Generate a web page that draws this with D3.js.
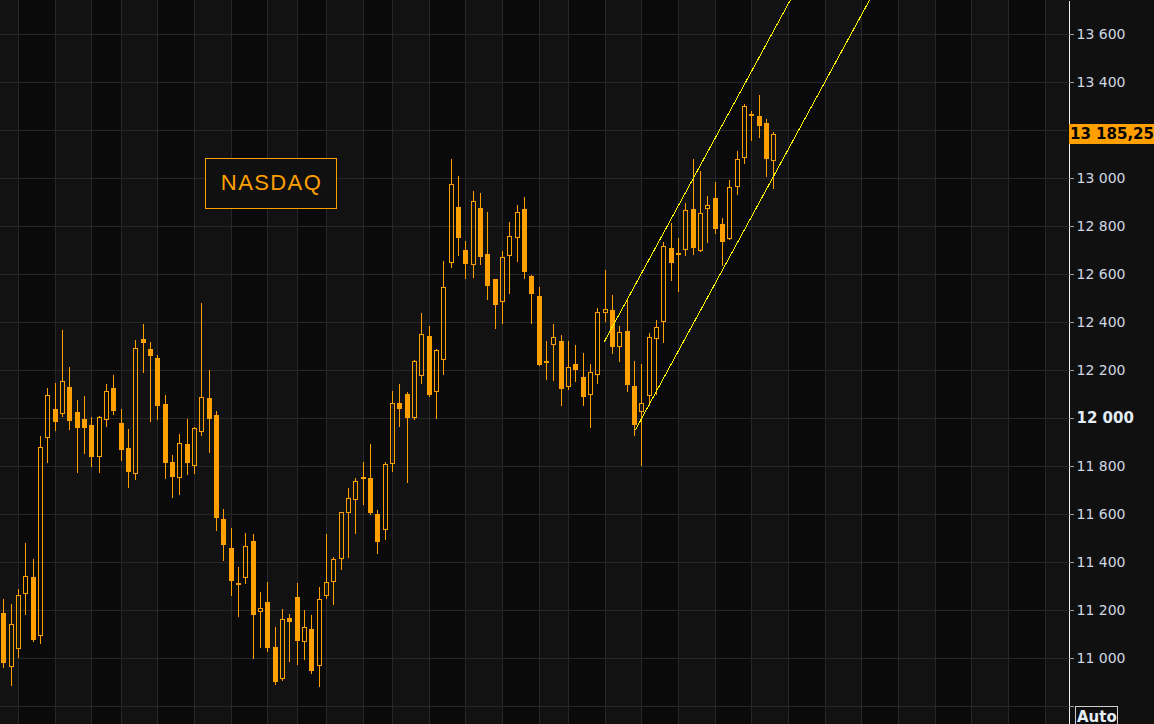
<!DOCTYPE html>
<html>
<head>
<meta charset="utf-8">
<script src="https://cdn.jsdelivr.net/npm/d3@7"></script>
<style>
  html, body { margin: 0; padding: 0; background: #101010; overflow: hidden; }
</style>
</head>
<body>
<div id="chart"></div>
<script>
//--------------------------------------------------
// Data (daily candles, index 0 = oldest)
//--------------------------------------------------
var opens = [11186,10961,11036,11265,11336,11090,11915,12036,12015,12128,
  12024,11995,11970,11836,11990,12124,11978,11874,11765,12328,
  12286,12249,12057,11815,11749,11890,11799,11940,12082,12011,
  11578,11457,11312,11335,11486,11190,11233,11046,10914,11167,
  11254,11068,11120,10968,11257,11315,11411,11603,11657,11745,
  11749,11599,11532,11807,12061,12099,12001,12176,12340,12110,
  12243,12647,12878,12699,12639,12874,12682,12578,12485,12674,
  12749,12870,12590,12507,12236,12303,12320,12130,12224,12170,
  12095,12178,12436,12449,12297,12361,12132,12024,12090,12328,
  12399,12707,12686,12699,12870,12695,12870,12915,12807,12745,
  12961,13082,13268,13257,13228,13070];
var highs = [11246,11225,11288,11479,11412,11925,12125,12146,12367,12212,
  12075,12092,12004,12008,12142,12179,12037,11954,12325,12392,
  12317,12261,12096,11846,11932,11996,11964,12479,12200,12028,
  11621,11542,11378,11521,11515,11274,11317,11129,11203,11183,
  11312,11200,11178,11295,11517,11420,11607,11708,11750,11817,
  11892,11617,11817,12112,12142,12107,12242,12437,12383,12286,
  12654,13079,13008,12738,12946,12938,12858,12578,12696,12817,
  12888,12921,12596,12546,12321,12392,12346,12321,12304,12270,
  12224,12457,12615,12511,12382,12490,12236,12224,12353,12407,
  12732,12811,12749,12895,13078,13028,12924,12982,12832,12990,
  13111,13307,13278,13345,13245,13190];
var lows = [10957,10885,10999,11178,11068,11057,11814,11947,12005,11951,
  11772,11851,11797,11772,11964,12014,11822,11710,11743,12189,
  11985,11993,11747,11668,11680,11764,11768,11926,11855,11530,
  11405,11260,11172,11310,10997,11043,11026,10889,10905,10985,
  10972,10993,10935,10880,11247,11222,11368,11418,11518,11639,
  11597,11435,11493,11776,11964,11730,11993,12143,12089,11997,
  12180,12626,12676,12580,12585,12639,12493,12372,12393,12518,
  12651,12580,12393,12218,12160,12155,12051,12118,12151,12051,
  11960,12140,12401,12268,12235,12107,11924,11801,12049,12095,
  12311,12570,12524,12674,12678,12690,12728,12765,12632,12740,
  12928,13057,13153,13165,13003,12953];
var closes = [10978,11140,11261,11340,11076,11878,12095,11982,12153,11986,
  11957,11957,11836,12003,12111,12028,11865,11774,12290,12311,
  12257,12051,11814,11755,11895,11814,11957,12086,11997,11585,
  11472,11322,11305,11465,11180,11207,11043,10901,11161,11151,
  11072,11128,10947,11245,11315,11411,11607,11665,11736,11753,
  11605,11485,11807,12061,12039,12001,12236,12349,12097,12282,
  12545,12974,12751,12643,12903,12672,12551,12472,12670,12757,
  12857,12610,12518,12222,12228,12336,12122,12211,12201,12089,
  12190,12440,12453,12297,12357,12136,11970,12061,12336,12378,
  12715,12645,12685,12865,12707,12853,12886,12786,12732,12961,
  13078,13299,13263,13215,13078,13185.25];

// candle index of the first session of each week (vertical grid)
var weekStarts = [2,7,12,16,21,26,31,36,40,44,49,53,58,63,68,73,77,82,87,92,
  97,102,107,112,117,122,127,132,137,142];

// price axis ticks (grid) and the ones that carry a visible label
var tickValues = d3.range(10800, 13801, 200);
var hiddenLabels = [10800, 13200];

// trend channel: [candle index, price]
var channelUpper = [[81.95, 12318], [110, 13892]];
var channelLower = [[86.18, 11950], [120, 13847]];

var chartTitle = 'NASDAQ';

//--------------------------------------------------
// Styles
//--------------------------------------------------
var width = 1154, height = 724;
var plotRight = 1068;
var candleColor = '#ffa000';
var bandLight = '#121212', bandDark = '#0a0a0a';
var gridColor = '#272727';
var labelColor = '#d0d8e4';

var fmtLocale = d3.formatLocale({decimal: ',', thousands: ' ', grouping: [3], currency: ['', '']});
var fmtTick = fmtLocale.format(',.0f');
var fmtPrice = fmtLocale.format(',.2f');

var svg = d3.select('#chart').append('svg')
  .attr('width', width)
  .attr('height', height)
  .style('display', 'block');

var x = d3.scaleLinear().domain([-0.454, 145.18]).range([0, plotRight]);
var y = d3.scaleLinear().domain([10725, 13741.7]).range([height, 0]);

function px(v) { return Math.round(v) + 0.5; }

drawBackground();
drawCandles();
drawChannel();
drawAxis();
drawTitle();

function drawBackground() {
  svg.append('rect')
    .attr('width', width).attr('height', height)
    .attr('fill', '#101010');

  var bounds = [x.domain()[0]].concat(weekStarts, [x.domain()[1]]);
  var bands = d3.pairs(bounds);
  svg.append('g').selectAll('rect')
    .data(bands)
    .enter().append('rect')
      .attr('x', function(d) { return Math.round(x(d[0])); })
      .attr('y', 0)
      .attr('width', function(d) { return Math.round(x(d[1])) - Math.round(x(d[0])); })
      .attr('height', height)
      .attr('fill', function(d, i) { return i % 2 === 0 ? bandLight : bandDark; });

  var grid = svg.append('g')
    .attr('stroke', gridColor)
    .attr('stroke-width', 1)
    .attr('shape-rendering', 'crispEdges');

  grid.selectAll('.v')
    .data(weekStarts)
    .enter().append('line')
      .attr('x1', function(d) { return px(x(d)); })
      .attr('x2', function(d) { return px(x(d)); })
      .attr('y1', 0).attr('y2', height);

  grid.selectAll('.h')
    .data(tickValues)
    .enter().append('line')
      .attr('x1', 0).attr('x2', plotRight)
      .attr('y1', function(d) { return px(y(d)); })
      .attr('y2', function(d) { return px(y(d)); });
}

function drawCandles() {
  var data = opens.map(function(o, i) {
    return {i: i, o: o, h: highs[i], l: lows[i], c: closes[i]};
  });

  var g = svg.append('g').attr('shape-rendering', 'crispEdges');

  var candle = g.selectAll('g')
    .data(data)
    .enter().append('g');

  candle.each(function(d) {
    var sel = d3.select(this);
    var cx = Math.round(x(d.i));
    var top = Math.round(y(Math.max(d.o, d.c)));
    var bot = Math.round(y(Math.min(d.o, d.c)));
    var hi = Math.round(y(d.h));
    var lo = Math.round(y(d.l));
    var up = d.c > d.o;

    if (up) {
      // hollow candle: wick stops at the body
      sel.append('line')
        .attr('x1', cx + 0.5).attr('x2', cx + 0.5)
        .attr('y1', hi).attr('y2', top)
        .attr('stroke', candleColor);
      sel.append('line')
        .attr('x1', cx + 0.5).attr('x2', cx + 0.5)
        .attr('y1', bot).attr('y2', lo)
        .attr('stroke', candleColor);
      sel.append('rect')
        .attr('x', cx - 1.5)
        .attr('y', top + 0.5)
        .attr('width', 4)
        .attr('height', Math.max(1, bot - top - 1))
        .attr('fill', 'none')
        .attr('stroke', candleColor);
    } else {
      sel.append('line')
        .attr('x1', cx + 0.5).attr('x2', cx + 0.5)
        .attr('y1', hi).attr('y2', lo)
        .attr('stroke', candleColor);
      sel.append('rect')
        .attr('x', cx - 2)
        .attr('y', top)
        .attr('width', 5)
        .attr('height', Math.max(2, bot - top))
        .attr('fill', candleColor);
    }
  });
}

function drawChannel() {
  svg.append('clipPath').attr('id', 'plotClip')
    .append('rect')
      .attr('width', plotRight).attr('height', height);

  var line = d3.line()
    .x(function(d) { return x(d[0]); })
    .y(function(d) { return y(d[1]); });

  svg.append('g')
    .attr('clip-path', 'url(#plotClip)')
    .selectAll('path')
    .data([channelUpper, channelLower])
    .enter().append('path')
      .attr('d', line)
      .attr('fill', 'none')
      .attr('stroke', '#ffff00')
      .attr('stroke-width', 1)
      .attr('shape-rendering', 'crispEdges');
}

function drawAxis() {
  var axis = svg.append('g')
    .attr('transform', 'translate(' + (plotRight + 0.5) + ',0)')
    .call(d3.axisRight(y)
      .tickValues(tickValues)
      .tickSize(5)
      .tickSizeOuter(0)
      .tickPadding(3)
      .tickFormat(function(d) { return hiddenLabels.indexOf(d) >= 0 ? '' : fmtTick(d); }));

  axis.select('.domain')
    .attr('stroke', '#f2f2f2')
    .attr('shape-rendering', 'crispEdges');
  axis.selectAll('.tick line')
    .attr('stroke', '#9a9a9a')
    .attr('shape-rendering', 'crispEdges');
  axis.selectAll('.tick text')
    .attr('fill', labelColor)
    .style('font-family', '"DejaVu Sans", Verdana, sans-serif')
    .style('font-size', '14px')
    .filter(function(d) { return d === 12000; })
      .attr('fill', '#e4ecf6')
      .style('font-weight', 'bold')
      .style('font-size', '15px');

  // last price tag
  var last = closes[closes.length - 1];
  var tag = svg.append('g')
    .attr('transform', 'translate(' + (plotRight + 1) + ',' + Math.round(y(last)) + ')');
  tag.append('rect')
    .attr('x', 0).attr('y', -10)
    .attr('width', width - plotRight).attr('height', 20)
    .attr('fill', candleColor);
  tag.append('text')
    .attr('x', 1).attr('y', 0).attr('dy', '0.36em')
    .attr('fill', '#000')
    .style('font-family', '"DejaVu Sans", Verdana, sans-serif')
    .style('font-weight', 'bold')
    .style('font-size', '15px')
    .text(fmtPrice(last));

  // "Auto" scale button
  var btn = svg.append('g');
  btn.append('rect')
    .attr('x', 1075.5).attr('y', Math.round(y(10800)) + 0.5)
    .attr('width', 42).attr('height', 24)
    .attr('fill', '#0e0e0e')
    .attr('stroke', '#cfcfcf');
  btn.append('text')
    .attr('x', 1077).attr('y', 722)
    .attr('fill', '#e4ecf6')
    .style('font-family', '"DejaVu Sans", Verdana, sans-serif')
    .style('font-weight', 'bold')
    .style('font-size', '15px')
    .text('Auto');
}

function drawTitle() {
  var g = svg.append('g').attr('transform', 'translate(205.5,158.5)');
  g.append('rect')
    .attr('width', 131).attr('height', 50)
    .attr('fill', '#101010')
    .attr('stroke', candleColor);
  g.append('text')
    .attr('x', 66).attr('y', 31)
    .attr('text-anchor', 'middle')
    .attr('fill', candleColor)
    .style('font-family', '"Liberation Sans", Arial, sans-serif')
    .style('font-size', '22px')
    .style('letter-spacing', '1.4px')
    .text(chartTitle);
}
</script>
</body>
</html>
